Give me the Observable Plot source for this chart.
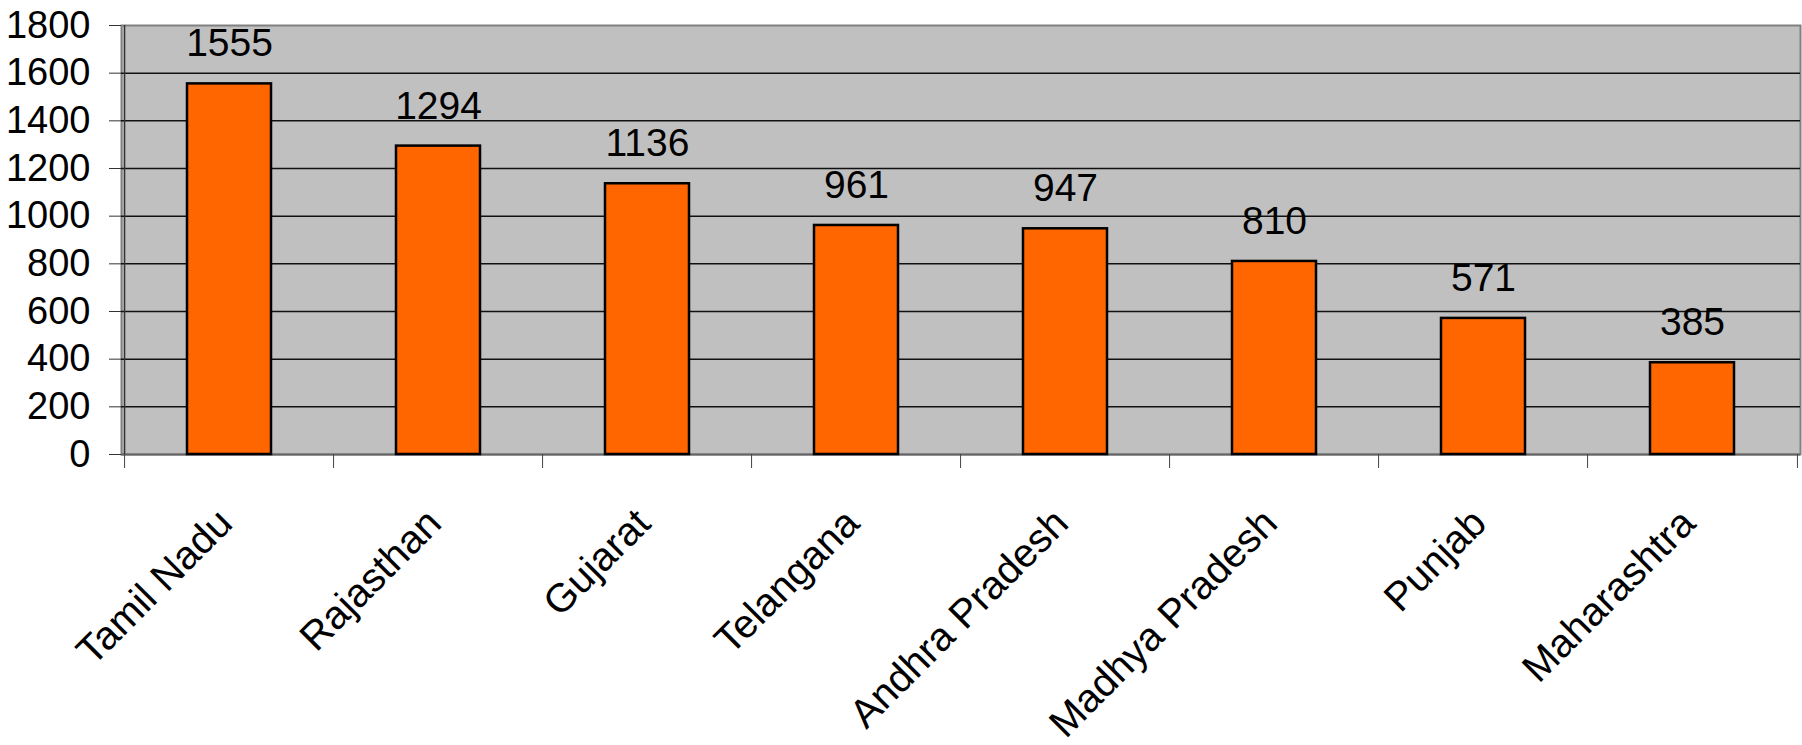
<!DOCTYPE html>
<html>
<head>
<meta charset="utf-8">
<script src="https://cdn.jsdelivr.net/npm/d3@7"></script>
<script src="https://cdn.jsdelivr.net/npm/@observablehq/plot@0.6"></script>
<style>
  html, body { margin: 0; padding: 0; background: #fff; }
  #chart svg { display: block; }
</style>
</head>
<body>
<div id="chart"></div>
<script>
const states = ["Tamil Nadu", "Rajasthan", "Gujarat", "Telangana", "Andhra Pradesh", "Madhya Pradesh", "Punjab", "Maharashtra"];
const values = [1555, 1294, 1136, 961, 947, 810, 571, 385];
const yTicks = [0, 200, 400, 600, 800, 1000, 1200, 1400, 1600, 1800];

const data = states.map((s, i) => ({state: s, value: values[i]}));

const W = 1802, H = 745;
const mL = 121, mR = 2, mT = 25, mB = 291;
const step = (W - mL - mR) / (states.length - 0.6 + 0.6);
const font = "'Liberation Sans', Arial, sans-serif";

const chart = Plot.plot({
  width: W,
  height: H,
  marginLeft: mL,
  marginRight: mR,
  marginTop: mT,
  marginBottom: mB,
  style: {fontFamily: font, color: "#000", background: "#fff"},
  x: {domain: states, paddingInner: 0.6, paddingOuter: 0.3, label: null},
  y: {domain: [0, 1800], label: null},
  marks: [
    Plot.frame({fill: "#c0c0c0", stroke: "#808080", strokeWidth: 2}),
    Plot.ruleY(yTicks.filter(d => d > 0 && d < 1800), {stroke: "#111", strokeWidth: 1.5}),
    Plot.ruleY([0], {stroke: "#666", strokeWidth: 2}),
    Plot.ruleX([0], {x: () => states[0], dx: -step / 2, stroke: "#333", strokeWidth: 1.5}),
    Plot.barY(data, {x: "state", y: "value", fill: "#ff6600", stroke: "#000", strokeWidth: 2.5}),
    Plot.text(data, {x: "state", y: "value", text: d => String(d.value), dy: -40, fontSize: 39, fill: "#000"}),
    Plot.axisY({ticks: yTicks, tickSize: 12, tickPadding: 19, fontSize: 38, tickFormat: d => String(d), stroke: "#333"}),
    Plot.axisX({tickSize: 14, tickFormat: () => "", dx: -step / 2, stroke: "#444"}),
    Plot.axisX({ticks: [states[states.length - 1]], tickSize: 14, tickFormat: () => "", dx: step / 2, stroke: "#444"}),
    Plot.axisX({tickSize: 0, tickPadding: 62, tickRotate: -45, fontSize: 40, dx: -4})
  ]
});

document.getElementById("chart").appendChild(chart);
</script>
</body>
</html>
